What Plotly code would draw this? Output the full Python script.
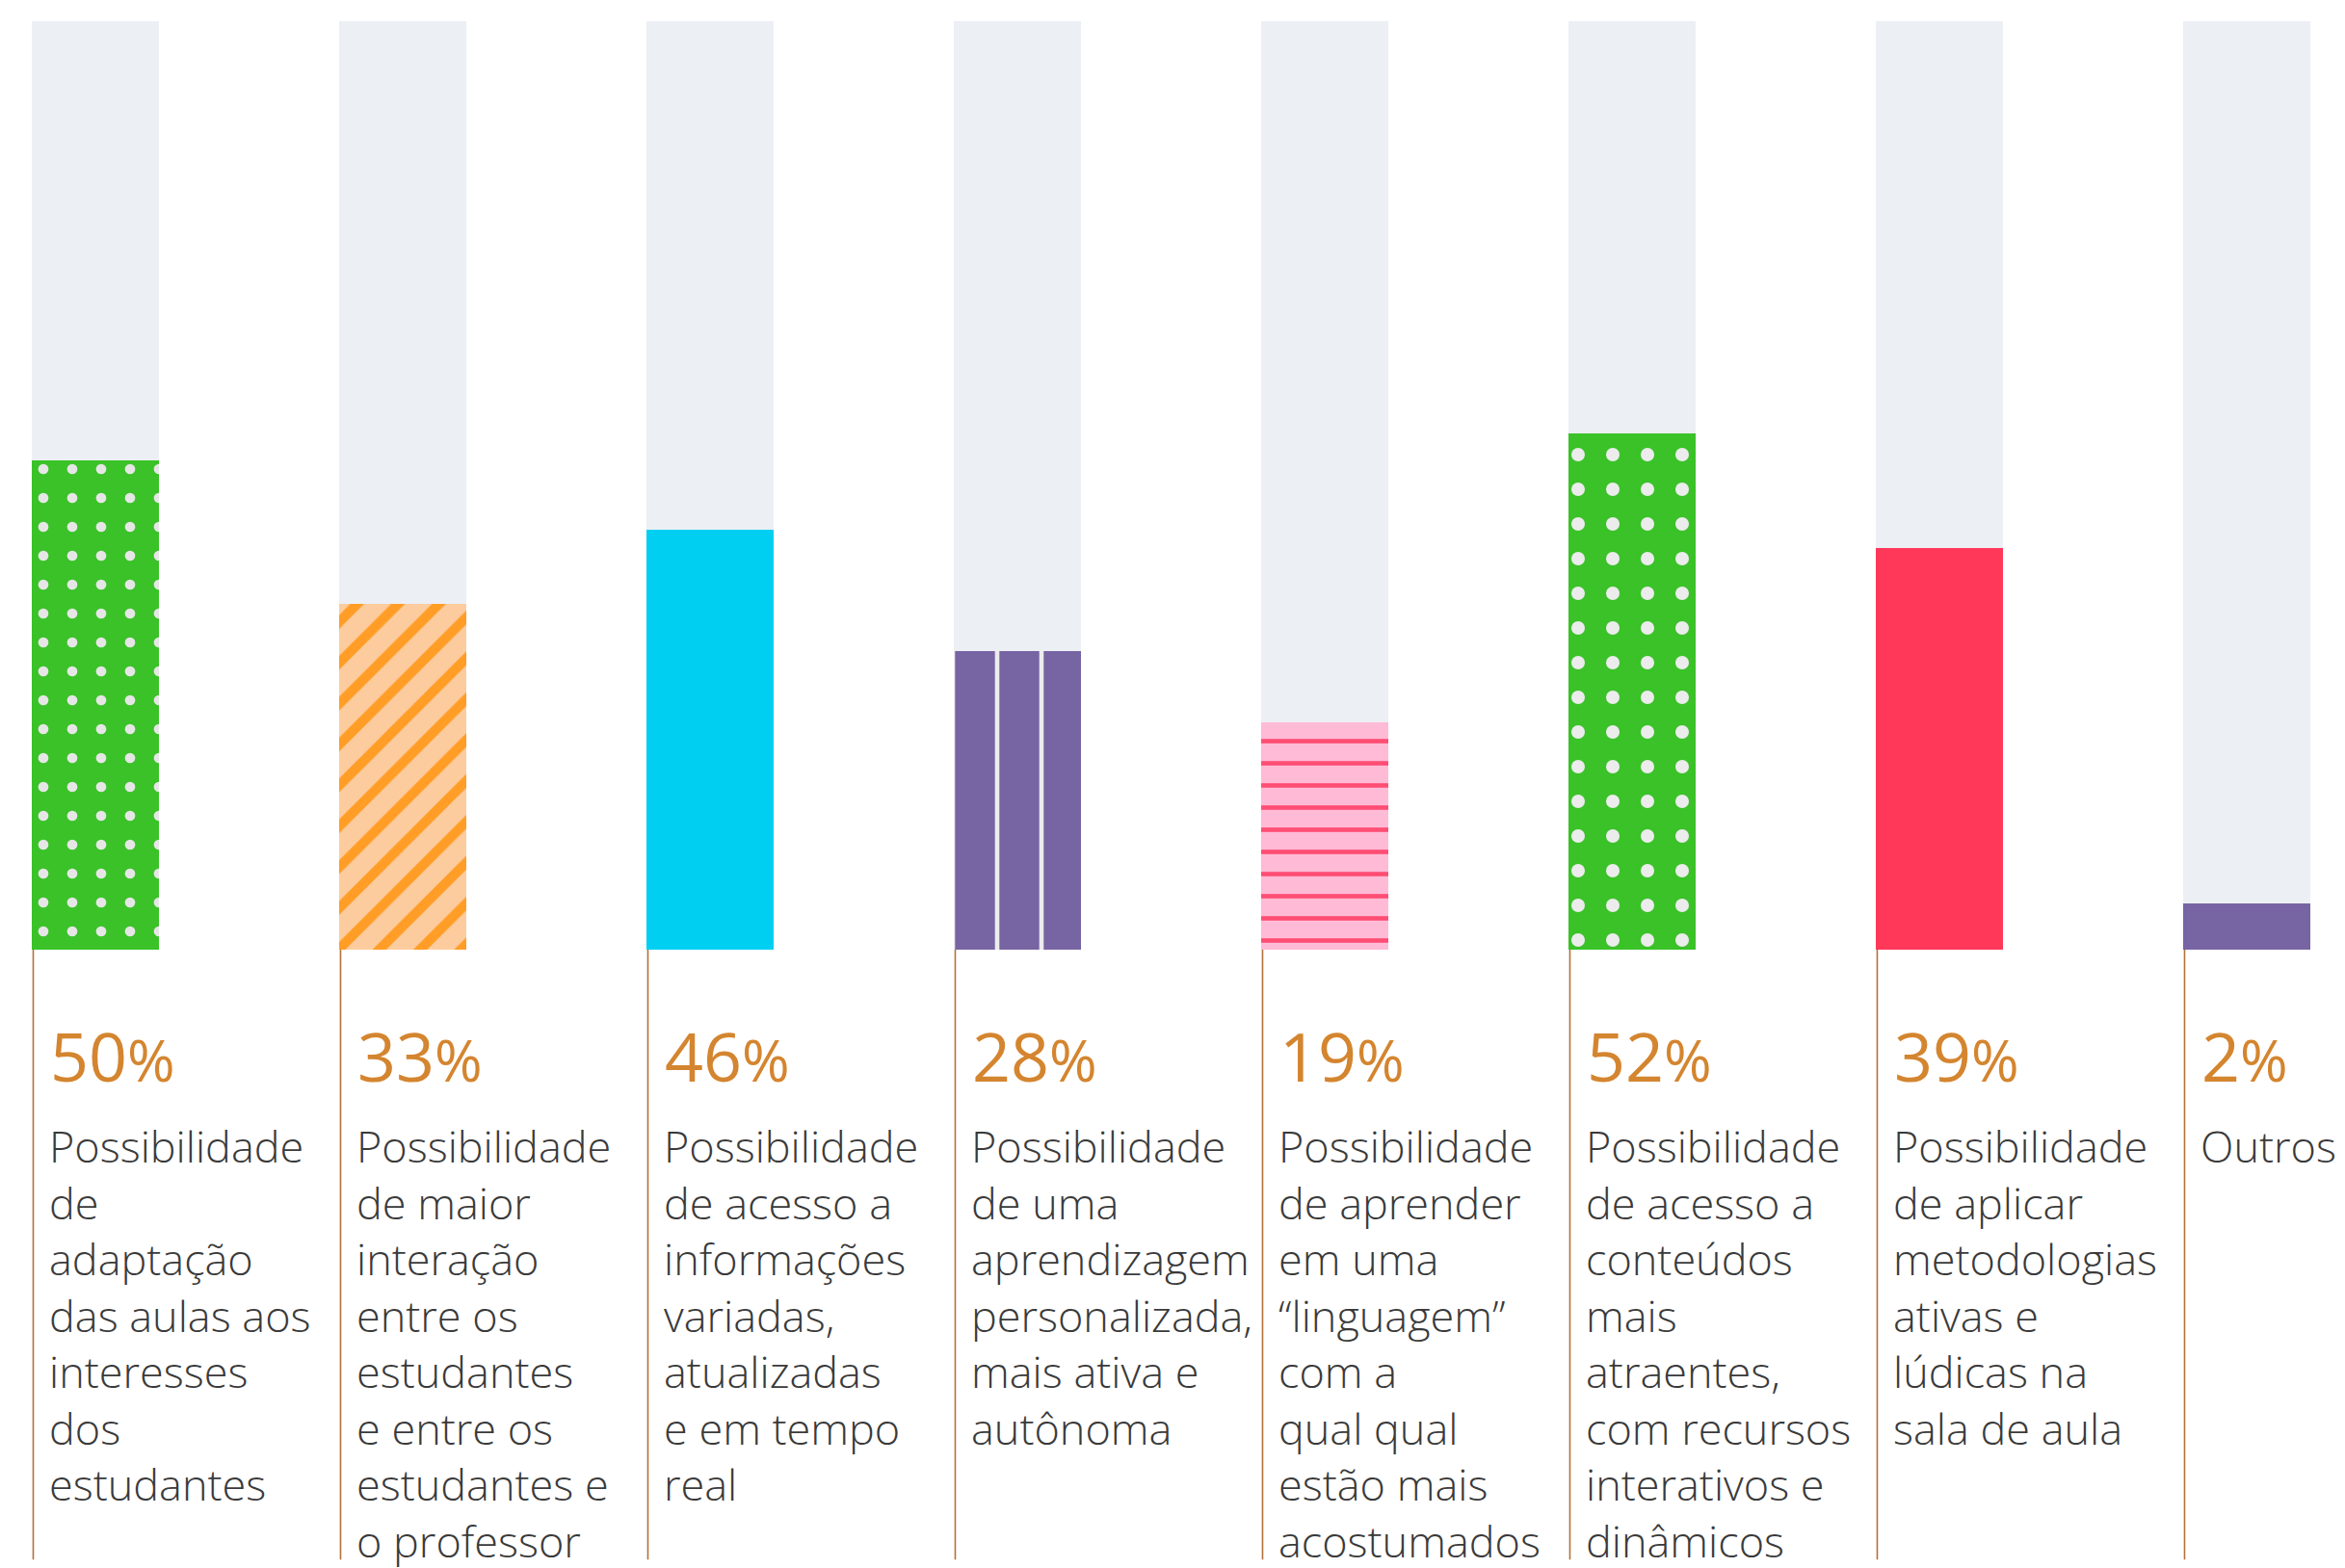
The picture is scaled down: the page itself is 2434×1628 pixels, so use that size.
import plotly.graph_objects as go

# ---------------- data ----------------
percent_labels = [50, 33, 46, 28, 19, 52, 39, 2]          # printed values (%)
bar_heights = [52.7, 37.2, 45.2, 32.2, 24.5, 55.6, 43.3, 5.0]  # drawn fill height (% of track)
track_max = [100] * 8
categories = [
    "Possibilidade<br>de<br>adaptação<br>das aulas aos<br>interesses<br>dos<br>estudantes",
    "Possibilidade<br>de maior<br>interação<br>entre os<br>estudantes<br>e entre os<br>estudantes e<br>o professor",
    "Possibilidade<br>de acesso a<br>informações<br>variadas,<br>atualizadas<br>e em tempo<br>real",
    "Possibilidade<br>de uma<br>aprendizagem<br>personalizada,<br>mais ativa e<br>autônoma",
    "Possibilidade<br>de aprender<br>em uma<br>“linguagem”<br>com a<br>qual qual<br>estão mais<br>acostumados",
    "Possibilidade<br>de acesso a<br>conteúdos<br>mais<br>atraentes,<br>com recursos<br>interativos e<br>dinâmicos",
    "Possibilidade<br>de aplicar<br>metodologias<br>ativas e<br>lúdicas na<br>sala de aula",
    "Outros",
]

# ---------------- styles ----------------
bar_colors = ["#3ac228", "#fdcc9e", "#00cff2", "#7764a3", "#ffbad6", "#3ac228", "#ff3859", "#7764a3"]
pat_shapes = [".", "/", "", "|", "-", ".", "", ""]
pat_fg = ["#e6e6e6", "#ff9d26", "#00cff2", "#ececec", "#ff4d73", "#ececec", "#ff3859", "#7764a3"]
pat_size = [30, 30, 10, 46, 23, 36, 10, 10]
pat_sol = [0.1, 0.34, 0.2, 0.1, 0.2, 0.12, 0.2, 0.2]

TRACK = "#eceff4"
LINE = "#b3713a"
PCT = "#d4852f"
TXT = "#3a3a3a"
FONT = "Open Sans"

n = len(percent_labels)
xs = list(range(n))
BW = 0.414

fig = go.Figure()

fig.add_trace(go.Bar(x=xs, y=track_max, width=BW, marker=dict(color=TRACK, line=dict(width=0)),
                     hoverinfo="skip", showlegend=False))

for i in range(n):
    marker = dict(color=bar_colors[i], line=dict(width=0))
    if pat_shapes[i]:
        marker["pattern"] = dict(shape=pat_shapes[i], fgcolor=pat_fg[i], bgcolor=bar_colors[i],
                                 size=pat_size[i], solidity=pat_sol[i], fgopacity=1)
    fig.add_trace(go.Bar(x=[xs[i]], y=[bar_heights[i]], width=BW, marker=marker,
                         showlegend=False, hoverinfo="skip"))

# vertical guide lines below the bars
lx, ly = [], []
for i in range(n):
    lx += [xs[i] - BW / 2 + 0.006, xs[i] - BW / 2 + 0.006, None]
    ly += [0, -65.7, None]
fig.add_trace(go.Scatter(x=lx, y=ly, mode="lines", line=dict(color=LINE, width=1.6),
                         hoverinfo="skip", showlegend=False))

annotations = []
for i in range(n):
    annotations.append(dict(
        x=xs[i] - BW / 2 + 0.055, y=-16.6, xref="x", yref="y", xanchor="left", yanchor="bottom",
        text=f"{percent_labels[i]}<span style='font-size:60px'>%</span>",
        showarrow=False, font=dict(family=FONT, size=70, color=PCT, weight=400), align="left"))
    annotations.append(dict(
        x=xs[i] - BW / 2 + 0.05, y=-17.7, xref="x", yref="y", xanchor="left", yanchor="top",
        text=categories[i], showarrow=False, align="left",
        font=dict(family=FONT, size=45, color=TXT, weight=300)))

fig.update_layout(
    width=2434, height=1628,
    margin=dict(l=0, r=0, t=22, b=0),
    paper_bgcolor="white", plot_bgcolor="white",
    barmode="overlay", bargap=0,
    xaxis=dict(range=[-0.3091, 7.3210], visible=False, fixedrange=True),
    yaxis=dict(range=[-66.6, 100], visible=False, fixedrange=True),
    annotations=annotations,
)

fig.write_html("out.html", config={"displayModeBar": False},
               post_script="document.body.style.margin='0';")
